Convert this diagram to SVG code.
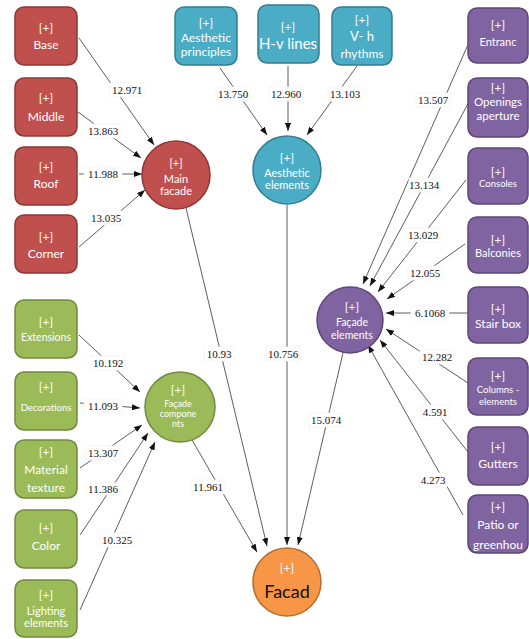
<svg xmlns="http://www.w3.org/2000/svg" width="529" height="639" viewBox="0 0 529 639">
<style>
.n text{font-family:Lato,"Open Sans","Liberation Sans",sans-serif;fill:#fff;text-anchor:middle;font-size:12px}
.red rect,.red circle{fill:#c0504d;stroke:#8c3836;stroke-width:1.5}
.blue rect,.blue circle{fill:#4bacc6;stroke:#357d91;stroke-width:1.5}
.pur rect,.pur circle{fill:#8064a2;stroke:#5c4776;stroke-width:1.5}
.grn rect,.grn circle{fill:#9bbb59;stroke:#71893f;stroke-width:1.5}
.org circle{fill:#f79646;stroke:#b66d31;stroke-width:1.5}
#edges line{stroke:#333;stroke-width:0.8;marker-end:url(#ah)}
#edges rect{fill:#fff;stroke:#f2f2f2;stroke-width:0.8}
#edges text{font-family:"Liberation Serif","Times New Roman",serif;font-size:11px;fill:#111;text-anchor:middle}
</style>
<defs>
<marker id="ah" markerWidth="8" markerHeight="6" refX="8" refY="3" orient="auto" markerUnits="userSpaceOnUse">
<path d="M0,0 L8,3 L0,6 z" fill="#111"/>
</marker>
</defs>
<rect width="529" height="639" fill="#fff"/>
<g id="edges">
<line x1="79" y1="38" x2="154" y2="145"/>
<line x1="78" y1="112" x2="141" y2="158"/>
<line x1="79" y1="174" x2="142" y2="174"/>
<line x1="79" y1="247" x2="145" y2="190"/>
<line x1="220" y1="68" x2="267" y2="135"/>
<line x1="288" y1="66" x2="288" y2="131"/>
<line x1="357" y1="66" x2="307" y2="135"/>
<line x1="186" y1="208" x2="267" y2="546"/>
<line x1="287" y1="205" x2="287" y2="545"/>
<line x1="343" y1="353" x2="298" y2="545"/>
<line x1="192" y1="440" x2="257" y2="552"/>
<line x1="470" y1="40" x2="363" y2="284"/>
<line x1="470" y1="100" x2="370" y2="286"/>
<line x1="466" y1="180" x2="378" y2="292"/>
<line x1="465" y1="244" x2="387" y2="299"/>
<line x1="468" y1="313" x2="386" y2="313"/>
<line x1="468" y1="383" x2="386" y2="329"/>
<line x1="468" y1="452" x2="380" y2="340"/>
<line x1="463" y1="515" x2="368" y2="345"/>
<line x1="79" y1="335" x2="140" y2="392"/>
<line x1="80" y1="403" x2="140" y2="408"/>
<line x1="80" y1="468" x2="142" y2="425"/>
<line x1="80" y1="535" x2="148" y2="433"/>
<line x1="80" y1="610" x2="155" y2="442"/>
<rect x="110" y="83" width="34" height="14"/><text x="127" y="94">12.971</text>
<rect x="86" y="124" width="34" height="14"/><text x="103" y="135">13.863</text>
<rect x="84" y="167" width="38" height="14"/><text x="103" y="178">11.988</text>
<rect x="89" y="211" width="34" height="14"/><text x="106" y="222">13.035</text>
<rect x="216" y="87" width="34" height="14"/><text x="233" y="98">13.750</text>
<rect x="269" y="87" width="34" height="14"/><text x="286" y="98">12.960</text>
<rect x="328" y="87" width="34" height="14"/><text x="345" y="98">13.103</text>
<rect x="416" y="93" width="34" height="14"/><text x="433" y="104">13.507</text>
<rect x="409" y="178" width="31" height="14"/><text x="424" y="189">13.134</text>
<rect x="406" y="228" width="34" height="14"/><text x="423" y="239">13.029</text>
<rect x="408" y="266" width="34" height="14"/><text x="425" y="277">12.055</text>
<rect x="411" y="306" width="38" height="14"/><text x="430" y="317">6.1068</text>
<rect x="420" y="350" width="34" height="14"/><text x="437" y="361">12.282</text>
<rect x="421" y="405" width="28" height="14"/><text x="435" y="416">4.591</text>
<rect x="419" y="473" width="28" height="14"/><text x="433" y="484">4.273</text>
<rect x="204" y="347" width="30" height="14"/><text x="219" y="358">10.93</text>
<rect x="266" y="347" width="34" height="14"/><text x="283" y="358">10.756</text>
<rect x="309" y="413" width="34" height="14"/><text x="326" y="424">15.074</text>
<rect x="191" y="480" width="34" height="14"/><text x="208" y="491">11.961</text>
<rect x="91" y="356" width="34" height="14"/><text x="108" y="367">10.192</text>
<rect x="84" y="399" width="38" height="14"/><text x="103" y="410">11.093</text>
<rect x="86" y="446" width="34" height="14"/><text x="103" y="457">13.307</text>
<rect x="86" y="483" width="34" height="12"/><text x="103" y="493">11.386</text>
<rect x="100" y="533" width="34" height="14"/><text x="117" y="544">10.325</text>
</g>
<g id="base" class="n red"><rect x="15" y="7" width="62" height="58" rx="9"/><text x="46" y="32">[+]</text><text x="46" y="49">Base</text></g>
<g id="middle" class="n red"><rect x="15" y="78" width="62" height="58" rx="9"/><text x="46" y="102">[+]</text><text x="46" y="121">Middle</text></g>
<g id="roof" class="n red"><rect x="15" y="147" width="62" height="58" rx="9"/><text x="46" y="171">[+]</text><text x="46" y="188">Roof</text></g>
<g id="corner" class="n red"><rect x="15" y="215" width="62" height="58" rx="9"/><text x="46" y="241">[+]</text><text x="46" y="258">Corner</text></g>
<g id="main-facade" class="n red"><circle cx="176" cy="175" r="34"/><text x="176" y="167" style="font-size:11px">[+]</text><text x="176" y="183" style="font-size:11px">Main</text><text x="176" y="195" style="font-size:11px">facade</text></g>
<g id="aesthetic-principles" class="n blue"><rect x="175" y="7" width="62" height="58" rx="9"/><text x="206" y="27">[+]</text><text x="206" y="42">Aesthetic</text><text x="206" y="56">principles</text></g>
<g id="hv-lines" class="n blue"><rect x="258" y="5" width="61" height="58" rx="9"/><text x="288" y="31">[+]</text><text x="288" y="49" style="font-size:15px">H-v lines</text></g>
<g id="vh-rhythms" class="n blue"><rect x="332" y="7" width="60" height="58" rx="9"/><text x="362" y="24">[+]</text><text x="362" y="41" style="font-size:13px">V- h</text><text x="362" y="58">rhythms</text></g>
<g id="aesthetic-elements" class="n blue"><circle cx="287" cy="170" r="34"/><text x="287" y="162">[+]</text><text x="287" y="177" style="font-size:11px">Aesthetic</text><text x="287" y="189" style="font-size:11px">elements</text></g>
<g id="entranc" class="n pur"><rect x="468" y="8" width="60" height="55" rx="9"/><text x="498" y="29">[+]</text><text x="498" y="46" style="font-size:11px">Entranc</text></g>
<g id="openings" class="n pur"><rect x="468" y="78" width="60" height="59" rx="9"/><text x="498" y="92">[+]</text><text x="498" y="106" style="font-size:11.5px">Openings</text><text x="498" y="120" style="font-size:11.5px">aperture</text></g>
<g id="consoles" class="n pur"><rect x="468" y="148" width="60" height="56" rx="9"/><text x="498" y="176">[+]</text><text x="498" y="187" style="font-size:9.5px">Consoles</text></g>
<g id="balconies" class="n pur"><rect x="468" y="217" width="60" height="56" rx="9"/><text x="498" y="244">[+]</text><text x="498" y="257" style="font-size:11px">Balconies</text></g>
<g id="stair-box" class="n pur"><rect x="468" y="287" width="60" height="56" rx="9"/><text x="498" y="313">[+]</text><text x="498" y="328">Stair box</text></g>
<g id="columns" class="n pur"><rect x="468" y="358" width="60" height="57" rx="9"/><text x="498" y="380">[+]</text><text x="498" y="393" style="font-size:9.5px">Columns -</text><text x="498" y="405" style="font-size:9.5px">elements</text></g>
<g id="gutters" class="n pur"><rect x="468" y="427" width="60" height="58" rx="9"/><text x="498" y="451">[+]</text><text x="498" y="468">Gutters</text></g>
<g id="patio" class="n pur"><rect x="468" y="495" width="60" height="58" rx="9"/><text x="498" y="511">[+]</text><text x="498" y="529">Patio or</text><text x="498" y="549">greenhou</text></g>
<g id="facade-elements" class="n pur"><circle cx="350" cy="320" r="33"/><text x="352" y="311">[+]</text><text x="352" y="326" style="font-size:10.5px">Façade</text><text x="352" y="339" style="font-size:10.5px">elements</text></g>
<g id="extensions" class="n grn"><rect x="15" y="300" width="62" height="58" rx="9"/><text x="46" y="326">[+]</text><text x="46" y="341" style="font-size:10.5px">Extensions</text></g>
<g id="decorations" class="n grn"><rect x="15" y="372" width="62" height="58" rx="9"/><text x="46" y="391">[+]</text><text x="46" y="411" style="font-size:9.5px">Decorations</text></g>
<g id="material" class="n grn"><rect x="15" y="440" width="62" height="58" rx="9"/><text x="46" y="456">[+]</text><text x="46" y="474">Material</text><text x="46" y="492">texture</text></g>
<g id="color" class="n grn"><rect x="15" y="510" width="62" height="58" rx="9"/><text x="46" y="532">[+]</text><text x="46" y="550">Color</text></g>
<g id="lighting" class="n grn"><rect x="15" y="580" width="62" height="57" rx="9"/><text x="46" y="599">[+]</text><text x="46" y="615" style="font-size:11px">Lighting</text><text x="46" y="627" style="font-size:11px">elements</text></g>
<g id="facade-components" class="n grn"><circle cx="180" cy="407" r="35"/><text x="178" y="394">[+]</text><text x="178" y="407" style="font-size:9px">Façade</text><text x="178" y="417" style="font-size:9px">compone</text><text x="178" y="427" style="font-size:9px">nts</text></g>
<g id="facad" class="n org"><circle cx="287" cy="582" r="34"/><text x="287" y="572">[+]</text><text x="287" y="598" style="font-size:18px;fill:#111">Facad</text></g>
</svg>
